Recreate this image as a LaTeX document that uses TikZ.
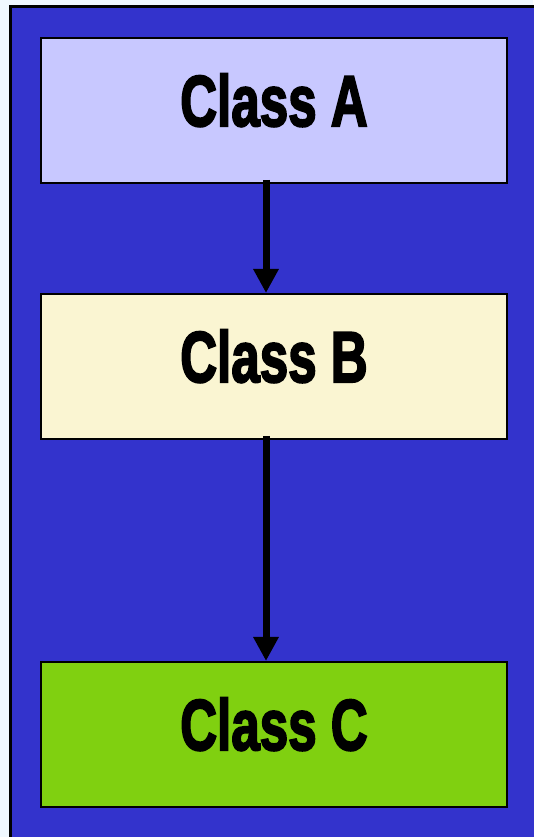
\documentclass[tikz,border=0pt]{standalone}
\usepackage{fontspec}
\setmainfont{Liberation Sans}[BoldFeatures={FakeBold=3}]
\usetikzlibrary{arrows.meta}
\definecolor{margincol}{HTML}{F0F8FF}
\definecolor{bluebg}{HTML}{3333CC}
\definecolor{fillA}{HTML}{C8C8FF}
\definecolor{fillB}{HTML}{FAF5D2}
\definecolor{fillC}{HTML}{80D010}
\tikzset{
  classbox/.style={draw=black, line width=2pt, minimum width=466pt, minimum height=145pt, inner sep=0pt},
  classlabel/.style={font=\fontsize{72}{72}\selectfont\bfseries, inner sep=0pt},
  flow/.style={line width=7pt, -{Triangle[width=24pt,length=24pt]}}
}
\newcommand{\condensed}[1]{\scalebox{0.71}[1]{#1}}
\begin{document}
\begin{tikzpicture}[x=1pt,y=1pt]
\fill[margincol] (0,0) rectangle (533,837);
\useasboundingbox (0,0) rectangle (533,837);
\filldraw[fill=bluebg, draw=black, line width=3pt] (10,-10) rectangle (545,830);
\node[classbox, fill=fillA] (A) at (274,726.5) {};
\node[classbox, fill=fillB] (B) at (274,470.5) {};
\node[classbox, fill=fillC] (C) at (274,102.5) {};
\node[classlabel, anchor=base] (tA) at (274,711) {\condensed{Class A}};
\node[classlabel, anchor=base] (tB) at (274,455) {\condensed{Class B}};
\node[classlabel, anchor=base] (tC) at (274,87) {\condensed{Class C}};
\draw[flow] ([xshift=-8pt,yshift=4pt]A.south) -- ([xshift=-8pt]B.north);
\draw[flow] ([xshift=-8pt,yshift=4pt]B.south) -- ([xshift=-8pt]C.north);
\end{tikzpicture}
\end{document}
